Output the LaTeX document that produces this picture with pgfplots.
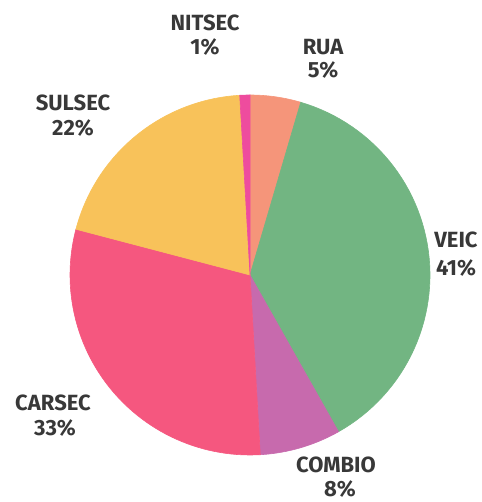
\documentclass[border=0pt]{standalone}
\usepackage{pgfplots}
\pgfplotsset{compat=1.18}
\usepackage{fontspec}
\setmainfont{Fira Sans}
\definecolor{cRUA}{HTML}{F5957A}
\definecolor{cVEIC}{HTML}{72B582}
\definecolor{cCOMBIO}{HTML}{C76AAD}
\definecolor{cCARSEC}{HTML}{F5577F}
\definecolor{cSULSEC}{HTML}{F8C25A}
\definecolor{cNITSEC}{HTML}{EE4C9E}
\definecolor{txt}{HTML}{383838}
% slice values (percent labels as printed)
\newcommand\vRUA{5}
\newcommand\vVEIC{41}
\newcommand\vCOMBIO{8}
\newcommand\vCARSEC{33}
\newcommand\vSULSEC{22}
\newcommand\vNITSEC{1}
\pgfmathsetmacro\tot{\vRUA+\vVEIC+\vCOMBIO+\vCARSEC+\vSULSEC+\vNITSEC}
\pgfmathsetmacro\aA{360*\vRUA/\tot}
\pgfmathsetmacro\aB{\aA+360*\vVEIC/\tot}
\pgfmathsetmacro\aC{\aB+360*\vCOMBIO/\tot}
\pgfmathsetmacro\aD{\aC+360*\vCARSEC/\tot}
\pgfmathsetmacro\aE{\aD+360*\vSULSEC/\tot}
\tikzset{lbl/.style={font=\bfseries\fontsize{11}{12}\selectfont, text=txt, align=center, inner sep=0pt}}
\begin{document}
\begin{tikzpicture}
\useasboundingbox (0,0) rectangle (240.5pt,251pt);
\begin{axis}[
  at={(0,0)}, anchor=south west,
  width=240.5pt, height=251pt, scale only axis,
  xmin=0, xmax=481, ymin=0, ymax=502,
  hide axis, clip=false,
]
\newcommand\slice[3]{%
  \addplot[fill=#1, draw=#1, line width=0.3pt, domain=#2:#3, samples=60, variable=\t]
    ({250+180*sin(\t)},{227+180*cos(\t)}) -- (axis cs:250,227) -- cycle;}
\slice{cRUA}{0}{\aA}
\slice{cVEIC}{\aA}{\aB}
\slice{cCOMBIO}{\aB}{\aC}
\slice{cCARSEC}{\aC}{\aD}
\slice{cSULSEC}{\aD}{\aE}
\slice{cNITSEC}{\aE}{360}
\node[lbl] at (axis cs:205,479) {NITSEC};
\node[lbl] at (axis cs:205,455) {1\%};
\node[lbl] at (axis cs:323,455) {RUA};
\node[lbl] at (axis cs:323,432) {5\%};
\node[lbl] at (axis cs:73,399) {SULSEC};
\node[lbl] at (axis cs:73,374) {22\%};
\node[lbl] at (axis cs:456,262) {VEIC};
\node[lbl] at (axis cs:456,234) {41\%};
\node[lbl] at (axis cs:336,37) {COMBIO};
\node[lbl] at (axis cs:340,13) {8\%};
\node[lbl] at (axis cs:53,99) {CARSEC};
\node[lbl] at (axis cs:55,74) {33\%};
\end{axis}
\end{tikzpicture}
\end{document}
